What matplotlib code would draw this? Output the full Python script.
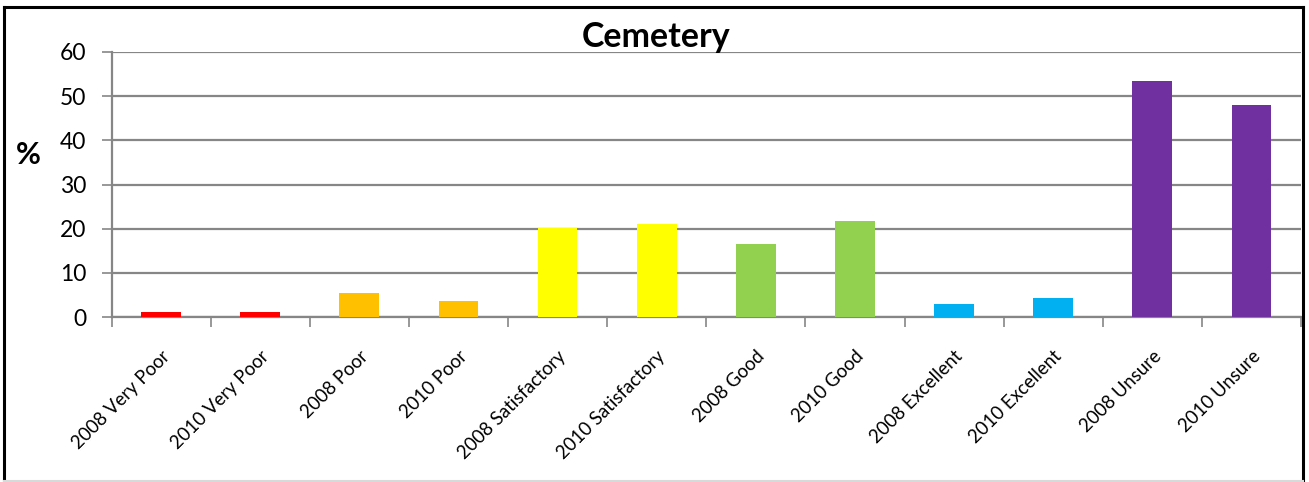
import numpy as np
import matplotlib.pyplot as plt
from matplotlib.lines import Line2D

plt.rcParams['font.family'] = ['Lato', 'DejaVu Sans']

categories = ['2008 Very Poor', '2010 Very Poor', '2008 Poor', '2010 Poor',
              '2008 Satisfactory', '2010 Satisfactory', '2008 Good', '2010 Good',
              '2008 Excellent', '2010 Excellent', '2008 Unsure', '2010 Unsure']
values = [1.1, 1.1, 5.4, 3.6, 20.1, 21.0, 16.5, 21.7, 2.9, 4.2, 53.4, 47.9]
bar_colors = ['#FF0000', '#FF0000', '#FFC000', '#FFC000', '#FFFF00', '#FFFF00',
              '#92D050', '#92D050', '#00B0F0', '#00B0F0', '#7030A0', '#7030A0']

grid_col = '#868686'

fig = plt.figure(figsize=(13.09, 4.82), dpi=100)
ax = fig.add_axes([111.5 / 1309, 1 - 317 / 482, (1301 - 111.5) / 1309, (317 - 52) / 482])

x = np.arange(len(categories))
ax.bar(x, values, width=0.4, color=bar_colors, zorder=3)

ax.set_xlim(-0.5, len(categories) - 0.5)
ax.set_ylim(0, 60)
ax.set_yticks(range(0, 61, 10))
ax.yaxis.grid(True, color=grid_col, linewidth=1.6, zorder=0)

# tick marks between categories, labels at the centres
ax.set_xticks(np.arange(-0.5, len(categories), 1.0))
ax.set_xticklabels([])
ax.set_xticks(x, minor=True)
ax.set_xticklabels(categories, minor=True, rotation=45, ha='right',
                   rotation_mode='anchor', fontsize=13.4)
ax.tick_params(axis='x', which='major', length=7, width=1.2, color=grid_col)
ax.tick_params(axis='x', which='minor', length=0, pad=22)
ax.tick_params(axis='y', length=7, width=1.2, color=grid_col, labelsize=16.5, pad=11)

for s in ['top', 'right']:
    ax.spines[s].set_visible(False)
for s in ['left', 'bottom']:
    ax.spines[s].set_color(grid_col)
    ax.spines[s].set_linewidth(1.6)

fig.text(28 / 1309, 1 - 155 / 482, '%', fontsize=22, fontweight='bold',
         ha='center', va='center')
fig.text(656 / 1309, 1 - 47 / 482, 'Cemetery', fontsize=24.5, fontweight='bold',
         ha='center', va='baseline')

# outer border
fx = [4 / 1309, 1303 / 1309]
fy = [1 - 480.5 / 482, 1 - 6.5 / 482]
fig.add_artist(Line2D([fx[0], fx[0]], fy, color='black', linewidth=2.2))
fig.add_artist(Line2D([fx[1], fx[1]], fy, color='black', linewidth=2.2))
fig.add_artist(Line2D(fx, [fy[1], fy[1]], color='black', linewidth=2.2))
fig.add_artist(Line2D(fx, [fy[0], fy[0]], color='#d9d9d9', linewidth=1.5))

fig.savefig('out.png', dpi=100)
